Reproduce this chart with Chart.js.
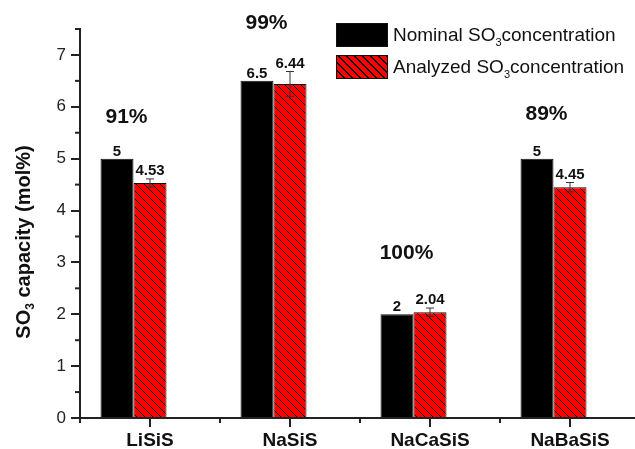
<!DOCTYPE html>
<html><head><meta charset="utf-8">
<script src="https://cdn.jsdelivr.net/npm/chart.js@4.4.1/dist/chart.umd.min.js"></script>
<style>
html,body{margin:0;padding:0;overflow:hidden;background:#fff;}
#wrap{position:relative;width:650px;height:449px;}
#legend{position:absolute;left:336px;top:23px;font-family:'Liberation Sans',Arial,sans-serif;font-size:19px;color:#111;}
.row{display:flex;align-items:center;height:24px;margin-bottom:8px;white-space:nowrap;}
.box{width:50px;height:22px;border:1px solid #111;margin-right:5px;flex:none;}
.black{background:#000;}
.hatch{background:repeating-linear-gradient(45deg,#ff0000 0px,#ff0000 4.7px,#000 4.7px,#000 5.66px);}
sub{font-size:11px;vertical-align:-5px;line-height:0;}
</style>
</head><body>
<div id="wrap">
<canvas id="c" width="650" height="449"></canvas>
<div id="legend">
  <div class="row"><div class="box black"></div><span>Nominal SO<sub>3</sub>concentration</span></div>
  <div class="row"><div class="box hatch"></div><span>Analyzed SO<sub>3</sub>concentration</span></div>
</div>
</div>
<script>
const categories = ['LiSiS', 'NaSiS', 'NaCaSiS', 'NaBaSiS'];
const nominal = [5, 6.5, 2, 5];
const analyzed = [4.53, 6.44, 2.04, 4.45];
const analyzedErr = [0.08, 0.24, 0.08, 0.09];
const recovery = ['91%', '99%', '100%', '89%'];
const yMin = 0, yMax = 7.5, yStep = 1;

const FONT = "'Liberation Sans', Arial, sans-serif";
const pctLift = [41, 58, 59, 44];

function hatchPattern() {
  const s = 8;
  const c = document.createElement('canvas');
  c.width = s; c.height = s;
  const g = c.getContext('2d');
  g.fillStyle = '#ff0000';
  g.fillRect(0, 0, s, s);
  g.strokeStyle = '#000';
  g.lineWidth = 1;
  for (let k = -1; k <= 1; k++) {
    g.beginPath();
    g.moveTo(k * s, 0);
    g.lineTo(k * s + s, s);
    g.stroke();
  }
  return g.createPattern(c, 'repeat');
}

const annot = {
  id: 'annot',
  afterDatasetsDraw(chart) {
    const ctx = chart.ctx, y = chart.scales.y;
    const m0 = chart.getDatasetMeta(0).data, m1 = chart.getDatasetMeta(1).data;
    ctx.save();
    ctx.strokeStyle = '#333';
    ctx.lineWidth = 1;
    analyzed.forEach((v, i) => {
      const cx = m1[i].x;
      const t = y.getPixelForValue(v + analyzedErr[i]);
      const b = y.getPixelForValue(v - analyzedErr[i]);
      ctx.beginPath();
      ctx.moveTo(cx, t); ctx.lineTo(cx, b);
      ctx.moveTo(cx - 4, t); ctx.lineTo(cx + 4, t);
      ctx.moveTo(cx - 4, b); ctx.lineTo(cx + 4, b);
      ctx.stroke();
    });
    ctx.fillStyle = '#111';
    ctx.textAlign = 'center';
    ctx.textBaseline = 'alphabetic';
    ctx.font = 'bold 15px ' + FONT;
    nominal.forEach((v, i) => ctx.fillText(String(v), m0[i].x, m0[i].y - 3));
    analyzed.forEach((v, i) => ctx.fillText(v.toFixed(2), m1[i].x, y.getPixelForValue(v + analyzedErr[i]) - 4));
    ctx.font = 'bold 21px ' + FONT;
    ctx.textBaseline = 'middle';
    recovery.forEach((t, i) => {
      const cx = (m0[i].x + m1[i].x) / 2 - 7;
      const top = Math.min(m0[i].y, m1[i].y);
      ctx.fillText(t, cx, top - pctLift[i]);
    });
    ctx.restore();
  },
  afterDraw(chart) {
    const ctx = chart.ctx, x = chart.scales.x, y = chart.scales.y;
    const area = chart.chartArea;
    ctx.save();
    ctx.strokeStyle = '#222';
    ctx.lineWidth = 2;
    for (let v = yMin + yStep / 2; v <= yMax + 1e-9; v += yStep) {
      const py = y.getPixelForValue(v);
      ctx.beginPath(); ctx.moveTo(area.left - 5, py); ctx.lineTo(area.left, py); ctx.stroke();
    }
    for (let i = 0; i <= categories.length; i++) {
      const px = x.getPixelForValue(i - 0.5);
      ctx.beginPath(); ctx.moveTo(px, area.bottom); ctx.lineTo(px, area.bottom + 5); ctx.stroke();
    }
    ctx.translate(24, 242);
    ctx.rotate(-Math.PI / 2);
    ctx.fillStyle = '#111';
    ctx.textBaseline = 'middle';
    ctx.textAlign = 'left';
    const big = 'bold 20px ' + FONT, small = 'bold 12px ' + FONT;
    const p1 = 'SO', p2 = '3', p3 = ' capacity (mol%)';
    ctx.font = big; const w1 = ctx.measureText(p1).width, w3 = ctx.measureText(p3).width;
    ctx.font = small; const w2 = ctx.measureText(p2).width;
    let sx = -(w1 + w2 + w3) / 2;
    ctx.font = big; ctx.fillText(p1, sx, 0); sx += w1;
    ctx.font = small; ctx.fillText(p2, sx, 7); sx += w2;
    ctx.font = big; ctx.fillText(p3, sx, 0);
    ctx.restore();
  }
};

new Chart(document.getElementById('c'), {
  type: 'bar',
  data: {
    labels: categories,
    datasets: [
      { label: 'Nominal SO3 concentration', data: nominal, backgroundColor: '#000', borderColor: '#111', borderWidth: 1 },
      { label: 'Analyzed SO3 concentration', data: analyzed, backgroundColor: hatchPattern(), borderColor: '#111', borderWidth: 1 },
      { label: 'spacer', data: categories.map(() => null), backgroundColor: 'transparent', borderWidth: 0 }
    ]
  },
  options: {
    responsive: false,
    animation: false,
    devicePixelRatio: 1,
    layout: { padding: { top: 29, right: 10, left: 0, bottom: 0 } },
    datasets: { bar: { barPercentage: 1, categoryPercentage: 0.707 } },
    plugins: { legend: { display: false }, tooltip: { enabled: false } },
    scales: {
      x: {
        grid: { display: true, drawOnChartArea: false, offset: false, tickLength: 9, lineWidth: 2, tickColor: '#222' },
        border: { display: true, color: '#222', width: 2 },
        ticks: { color: '#111', font: { family: FONT, size: 19, weight: 'bold' }, padding: 2, maxRotation: 0 },
        afterFit(s) { s.height = 31; }
      },
      y: {
        min: yMin, max: yMax,
        grid: { display: true, drawOnChartArea: false, tickLength: 9, lineWidth: 2, tickColor: '#222' },
        border: { display: true, color: '#222', width: 2 },
        ticks: { stepSize: yStep, color: '#222', font: { family: FONT, size: 17 }, padding: 5 },
        afterBuildTicks(s) { s.ticks = s.ticks.filter(t => Number.isInteger(t.value)); },
        afterFit(s) { s.width = 80; }
      }
    }
  },
  plugins: [annot]
});
</script>
</body></html>
